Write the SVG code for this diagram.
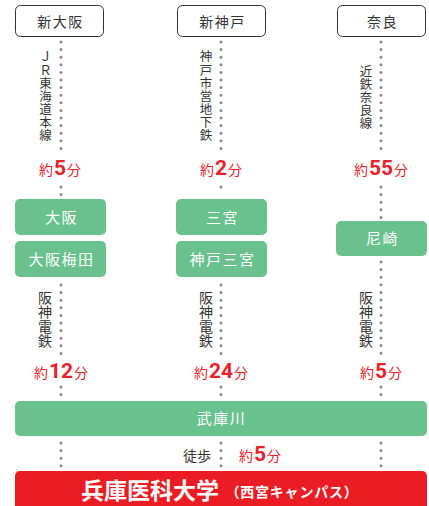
<svg xmlns="http://www.w3.org/2000/svg" width="429" height="506" viewBox="0 0 429 506">
<style>
.stn{fill:#fff;stroke:#333;stroke-width:1}
.stt{font-family:"Noto Sans CJK JP",sans-serif;font-size:14px;fill:#333;text-anchor:middle;letter-spacing:1.5px}
.gb{fill:#69c18e}
.gt{font-family:"Noto Sans CJK JP",sans-serif;font-size:15px;fill:#fff;text-anchor:middle;letter-spacing:1.5px}
.dot{stroke:#8a8a8a;stroke-width:3;stroke-linecap:round;stroke-dasharray:0 7.6;fill:none}
.vl{font-family:"Noto Sans CJK JP",sans-serif;font-size:12.5px;fill:#333;text-anchor:middle}
.vl2{font-family:"Noto Sans CJK JP",sans-serif;font-size:14px;fill:#333;text-anchor:middle}
.tm{font-family:"Noto Sans CJK JP",sans-serif;font-size:14px;fill:#e8212a;text-anchor:middle}
.num{font-family:Roboto,sans-serif;font-weight:bold;font-size:21px}
.wk{font-family:"Noto Sans CJK JP",sans-serif;font-size:14px;fill:#333;text-anchor:middle}
</style>
<g id="connectors">
<line class="dot" x1="61" y1="42" x2="61" y2="150"/>
<line class="dot" x1="61" y1="187" x2="61" y2="196"/>
<line class="dot" x1="61" y1="285" x2="61" y2="356"/>
<line class="dot" x1="61" y1="387" x2="61" y2="396"/>
<line class="dot" x1="61" y1="443" x2="61" y2="468"/>
<line class="dot" x1="221" y1="42" x2="221" y2="150"/>
<line class="dot" x1="221" y1="187" x2="221" y2="188"/>
<line class="dot" x1="221" y1="285" x2="221" y2="356"/>
<line class="dot" x1="221" y1="387" x2="221" y2="396"/>
<line class="dot" x1="221" y1="443" x2="221" y2="468"/>
<line class="dot" x1="381" y1="42" x2="381" y2="150"/>
<line class="dot" x1="381" y1="187" x2="381" y2="219"/>
<line class="dot" x1="381" y1="262" x2="381" y2="356"/>
<line class="dot" x1="381" y1="387" x2="381" y2="396"/>
<line class="dot" x1="381" y1="443" x2="381" y2="468"/>
</g>
<g id="labels">
<text class="vl" x="45.5 45.5 45.5 45.5 45.5 45.5 45.5" y="61.4 74.5 87.6 100.7 113.8 126.9 140">ＪＲ東海道本線</text>
<text class="vl" x="206 206 206 206 206 206 206" y="61.4 74.5 87.6 100.7 113.8 126.9 140">神戸市営地下鉄</text>
<text class="vl" x="366 366 366 366 366" y="76.3 89.3 102.3 115.3 128.3">近鉄奈良線</text>
<text class="vl2" x="45 45 45 45" y="302.5 317 331.5 346">阪神電鉄</text>
<text class="vl2" x="206 206 206 206" y="302.5 317 331.5 346">阪神電鉄</text>
<text class="vl2" x="366 366 366 366" y="302.5 317 331.5 346">阪神電鉄</text>
<text class="tm" x="60" y="175">約<tspan class="num" dx="1">5</tspan><tspan dx="1">分</tspan></text>
<text class="tm" x="221" y="175">約<tspan class="num" dx="1">2</tspan><tspan dx="1">分</tspan></text>
<text class="tm" x="381" y="175">約<tspan class="num" dx="1">55</tspan><tspan dx="1">分</tspan></text>
<text class="tm" x="61" y="378">約<tspan class="num" dx="1">12</tspan><tspan dx="1">分</tspan></text>
<text class="tm" x="221" y="378">約<tspan class="num" dx="1">24</tspan><tspan dx="1">分</tspan></text>
<text class="tm" x="381" y="378">約<tspan class="num" dx="1">5</tspan><tspan dx="1">分</tspan></text>
<text class="wk" x="197" y="461">徒歩</text>
<text class="tm" x="260" y="461">約<tspan class="num" dx="1">5</tspan><tspan dx="1">分</tspan></text>
</g>
<g id="n-shinosaka"><rect class="stn" x="15.5" y="5.5" width="88" height="31" rx="5"/><text class="stt" x="60.5" y="27">新大阪</text></g>
<g id="n-shinkobe"><rect class="stn" x="177.5" y="5.5" width="88" height="31" rx="5"/><text class="stt" x="222.5" y="27">新神戸</text></g>
<g id="n-nara"><rect class="stn" x="337.5" y="5.5" width="88" height="31" rx="5"/><text class="stt" x="382.5" y="27">奈良</text></g>
<g id="n-osaka"><rect class="gb" x="15" y="199" width="91" height="36" rx="5"/><text class="gt" x="61.5" y="222.5">大阪</text></g>
<g id="n-umeda"><rect class="gb" x="15" y="241" width="91" height="36" rx="5"/><text class="gt" x="61.5" y="264.5">大阪梅田</text></g>
<g id="n-sannomiya"><rect class="gb" x="176" y="199" width="91" height="36" rx="5"/><text class="gt" x="222.5" y="222.5">三宮</text></g>
<g id="n-kobesannomiya"><rect class="gb" x="176" y="241" width="91" height="36" rx="5"/><text class="gt" x="222.5" y="264.5">神戸三宮</text></g>
<g id="n-amagasaki"><rect class="gb" x="336" y="221" width="91" height="35" rx="5"/><text class="gt" x="382.5" y="244">尼崎</text></g>
<g id="n-mukogawa"><rect class="gb" x="15" y="401" width="412" height="35" rx="5"/><text class="gt" x="221.5" y="424">武庫川</text></g>
<g id="n-univ"><rect x="15" y="471" width="412" height="45" rx="5" fill="#ec1c24"/><text x="150" y="499" font-family="Noto Sans CJK JP,sans-serif" font-weight="bold" font-size="23" fill="#fff" text-anchor="middle">兵庫医科大学</text><text x="292" y="497" font-family="Noto Sans CJK JP,sans-serif" font-weight="bold" font-size="14" letter-spacing="0.8" fill="#fff" text-anchor="middle">（西宮キャンパス）</text></g>
</svg>
